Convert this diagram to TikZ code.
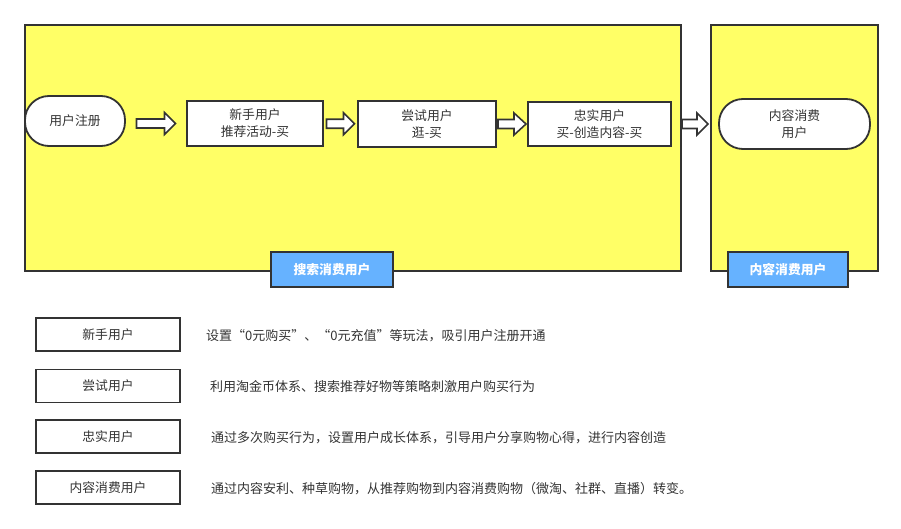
\documentclass[tikz,border=0pt]{standalone}
\usepackage{fontspec}
\setmainfont{Noto Sans CJK SC}
\usetikzlibrary{calc}
\definecolor{ln}{HTML}{333333}
\definecolor{yel}{HTML}{FFFF66}
\definecolor{blu}{HTML}{66B2FF}
\tikzset{
  container/.style={draw=ln, line width=1.8pt, fill=yel, inner sep=0pt},
  box/.style={draw=ln, line width=1.8pt, fill=white, text=ln, align=center, inner sep=0pt,
    font=\fontsize{12.8}{17}\selectfont},
  pill/.style={box, rounded corners=24pt},
  lab/.style={draw=ln, line width=1.8pt, fill=blu, text=white, inner sep=0pt,
    font=\fontsize{12.8}{15}\selectfont\bfseries},
  desc/.style={anchor=west, text=ln, inner sep=0pt, font=\fontsize{13}{15}\selectfont},
  pics/barrow/.style args={#1/#2}{code={
    \draw[draw=ln, line width=1.6pt, fill=white, line join=miter]
      (-#1/2,-4.5) -- (#1/2-#2,-4.5) -- (#1/2-#2,-11) -- (#1/2,0)
      -- (#1/2-#2,11) -- (#1/2-#2,4.5) -- (-#1/2,4.5) -- cycle;
  }}
}
\begin{document}
\begin{tikzpicture}[x=1pt, y=-1pt]
\useasboundingbox (0,0) rectangle (901,529);
% containers
\node[container, minimum width=656pt, minimum height=246pt] (search) at (353,148) {};
\node[container, minimum width=167pt, minimum height=246pt] (content) at (794.5,148) {};
\node[lab, minimum width=122pt, minimum height=35pt] (searchlab) at (332,269.5) {搜索消费用户};
\node[lab, minimum width=120pt, minimum height=35pt] (contentlab) at (788,269.5) {内容消费用户};
% flow nodes
\node[pill, minimum width=100pt, minimum height=50pt] (reg) at (75,121) {用户注册};
\node[box, minimum width=136pt, minimum height=45pt] (nu) at (255,123.5) {新手用户\\推荐活动-买};
\node[box, minimum width=138pt, minimum height=46pt] (tr) at (427,124) {尝试用户\\逛-买};
\node[box, minimum width=143pt, minimum height=44pt] (lo) at (599.5,124) {忠实用户\\买-创造内容-买};
\node[pill, minimum width=151pt, minimum height=50pt] (cc) at (794.5,124) {内容消费\\用户};
% block arrows
\pic at ($(reg.east|-nu.west)!0.5!(nu.west)$) {barrow=39/11};
\pic at ($(nu.east)!0.5!(tr.west)$) {barrow=28/11};
\pic at ($(tr.east)!0.5!(lo.west)$) {barrow=28/12};
\pic at ($(lo.east)!0.5!(cc.west|-lo.east)$) {barrow=26/11};
% legend
\node[box, minimum width=144pt, minimum height=33pt] (l1) at (108,334.5) {新手用户};
\node[box, minimum width=144pt, minimum height=33pt] (l2) at (108,386) {尝试用户};
\node[box, minimum width=144pt, minimum height=33pt] (l3) at (108,436.5) {忠实用户};
\node[box, minimum width=144pt, minimum height=33pt] (l4) at (108,487.5) {内容消费用户};
\node[desc] (d1) at (206,335.5) {设置“0元购买”、“0元充值”等玩法，吸引用户注册开通};
\node[desc] (d2) at (210,387) {利用淘金币体系、搜索推荐好物等策略刺激用户购买行为};
\node[desc] (d3) at (211,437.5) {通过多次购买行为，设置用户成长体系，引导用户分享购物心得，进行内容创造};
\node[desc] (d4) at (211,488.5) {通过内容安利、种草购物，从推荐购物到内容消费购物（微淘、社群、直播）转变。};
\end{tikzpicture}
\end{document}
